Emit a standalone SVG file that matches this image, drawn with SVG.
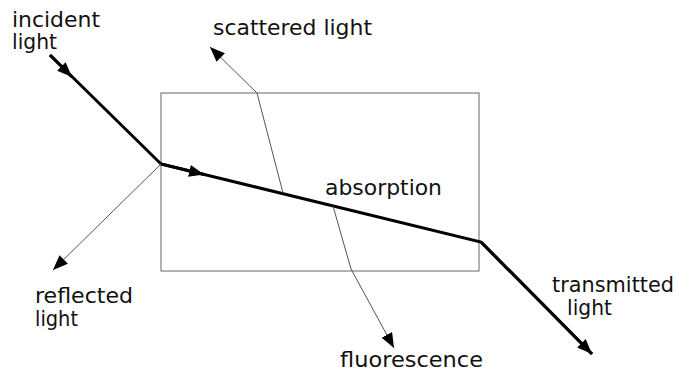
<svg xmlns="http://www.w3.org/2000/svg" width="676" height="376" viewBox="0 0 676 376">
<style>
text{font-family:"DejaVu Sans","Liberation Sans",sans-serif;font-size:21px;fill:#111}
.thick{stroke:#000;stroke-width:3;fill:none;stroke-linejoin:miter}
.thin{stroke:#555;stroke-width:1;fill:none}
.box{stroke:#666;stroke-width:1;fill:none}
</style>
<defs>
<marker id="ah" markerUnits="userSpaceOnUse" markerWidth="16" markerHeight="12" refX="15" refY="6" orient="auto">
<path d="M0,0 L15,6 L0,12 z" fill="#000"/>
</marker>
</defs>
<rect width="676" height="376" fill="#fff"/>
<g id="sample"><rect class="box" x="161" y="93" width="318" height="178"/></g>
<g id="connectors">
<path class="thick" d="M50,55 L161,164 L481,242 L592,354"/>
<path class="thick" d="M50,55 L72,77" marker-end="url(#ah)"/>
<path class="thick" d="M161,164 L204,174.5" marker-end="url(#ah)"/>
<path class="thick" d="M481,242 L592,354" marker-end="url(#ah)"/>
<path class="thin" d="M161,164 L53,270" marker-end="url(#ah)"/>
<path class="thin" d="M283,193 L257,93 L210,47" marker-end="url(#ah)"/>
<path class="thin" d="M333,206 L351,269 L394,348" marker-end="url(#ah)"/>
</g>
<g id="incident"><text x="12" y="27" textLength="88" lengthAdjust="spacingAndGlyphs">incident</text><text x="12" y="49" textLength="45" lengthAdjust="spacingAndGlyphs">light</text></g>
<g id="scattered"><text x="213" y="35" textLength="159" lengthAdjust="spacingAndGlyphs">scattered light</text></g>
<g id="absorption"><text x="325" y="195" textLength="117" lengthAdjust="spacingAndGlyphs">absorption</text></g>
<g id="reflected"><text x="35" y="303" textLength="98" lengthAdjust="spacingAndGlyphs">reflected</text><text x="35" y="326" textLength="43" lengthAdjust="spacingAndGlyphs">light</text></g>
<g id="transmitted"><text x="552" y="292" textLength="122" lengthAdjust="spacingAndGlyphs">transmitted</text><text x="567" y="315" textLength="45" lengthAdjust="spacingAndGlyphs">light</text></g>
<g id="fluorescence"><text x="340" y="367" textLength="143" lengthAdjust="spacingAndGlyphs">fluorescence</text></g>
</svg>
